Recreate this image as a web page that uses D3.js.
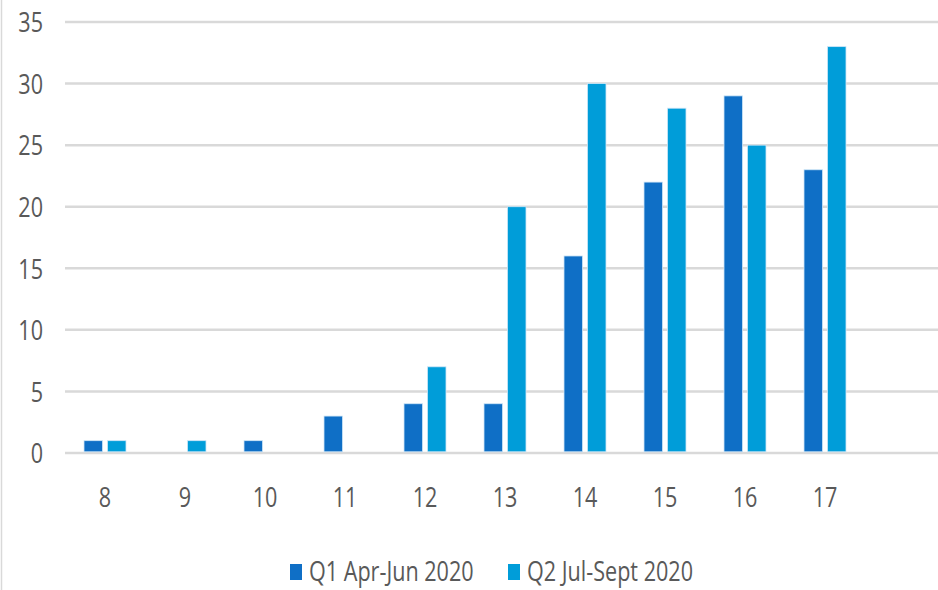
<!DOCTYPE html>
<html>
<head>
<meta charset="utf-8">
<script src="https://cdn.jsdelivr.net/npm/d3@7"></script>
<style>
  html, body { margin: 0; padding: 0; background: #fff; }
  svg { display: block; }
  text { font-family: "Open Sans", "Noto Sans", sans-serif; fill: #595959; }
</style>
</head>
<body>
<svg id="chart" width="938" height="590"></svg>
<script>
const categories = ["8", "9", "10", "11", "12", "13", "14", "15", "16", "17"];
const seriesNames = ["Q1 Apr-Jun 2020", "Q2 Jul-Sept 2020"];
const q1Values = [1, 0, 1, 3, 4, 4, 16, 22, 29, 23];
const q2Values = [1, 1, 0, 0, 7, 20, 30, 28, 25, 33];
const yTicks = [0, 5, 10, 15, 20, 25, 30, 35];
const colors = ["#0F6FC6", "#009DD9"];

const svg = d3.select("#chart");
const W = 938, H = 590;
const plotLeft = 65, plotRight = 938, plotTop = 22, plotBottom = 453;
const FS = 27, SX = 0.8;

const x = d3.scaleBand().domain(categories).range([plotLeft, plotLeft + 80 * categories.length]).paddingInner(0).paddingOuter(0);
const xInner = d3.scaleBand().domain(seriesNames).range([19, 61]).paddingInner(0.21).paddingOuter(0);
const y = d3.scaleLinear().domain([0, 35]).range([plotBottom, plotTop]);

// left border
svg.append("line").attr("x1", 1.5).attr("x2", 1.5).attr("y1", 0).attr("y2", H)
  .attr("stroke", "#D9D9D9").attr("stroke-width", 1.5);

// gridlines
svg.append("g").selectAll("line").data(yTicks).join("line")
  .attr("x1", plotLeft).attr("x2", plotRight)
  .attr("y1", d => y(d)).attr("y2", d => y(d))
  .attr("stroke", "#D9D9D9").attr("stroke-width", 2.5);

// y labels
const yAxis = d3.axisLeft(y).tickValues(yTicks).tickSize(0).tickPadding(0);
const yg = svg.append("g").attr("transform", "translate(43,0)").call(yAxis);
yg.select(".domain").remove();
yg.selectAll("text").attr("font-size", FS).attr("fill", "#595959")
  .attr("font-family", "'Open Sans', 'Noto Sans', sans-serif")
  .attr("dy", "0.36em").attr("x", 0)
  .attr("transform", `scale(${SX},1)`);

// bars
const seriesData = [q1Values, q2Values];
const groups = svg.append("g").selectAll("g").data(categories).join("g")
  .attr("transform", d => `translate(${x(d)},0)`);
groups.selectAll("rect").data((c, i) => seriesNames.map((s, k) => ({ s, k, v: seriesData[k][i] })))
  .join("rect")
  .filter(d => d.v > 0)
  .attr("x", d => xInner(d.s))
  .attr("width", xInner.bandwidth())
  .attr("y", d => y(d.v))
  .attr("height", d => y(0) - y(d.v) - 1.2)
  .attr("fill", d => colors[d.k])
  .attr("stroke", "#cfe6f7").attr("stroke-width", 0.8);

// x labels
const xAxis = d3.axisBottom(x).tickSize(0).tickPadding(0);
const xg = svg.append("g").attr("transform", "translate(0,507)").call(xAxis);
xg.select(".domain").remove();
xg.selectAll("text").attr("font-size", FS).attr("fill", "#595959")
  .attr("font-family", "'Open Sans', 'Noto Sans', sans-serif")
  .attr("dy", 0).attr("y", 0)
  .attr("transform", `scale(${SX},1)`);

// legend
const legendItems = [{ name: seriesNames[0], x: 290 }, { name: seriesNames[1], x: 508 }];
const lg = svg.append("g").selectAll("g").data(legendItems).join("g")
  .attr("transform", d => `translate(${d.x},0)`);
lg.append("rect").attr("x", 0).attr("y", 564).attr("width", 12).attr("height", 16)
  .attr("fill", (d, i) => colors[i]);
lg.append("text").attr("transform", `translate(19,581) scale(${SX},1)`)
  .attr("font-size", FS).text(d => d.name);
</script>
</body>
</html>
